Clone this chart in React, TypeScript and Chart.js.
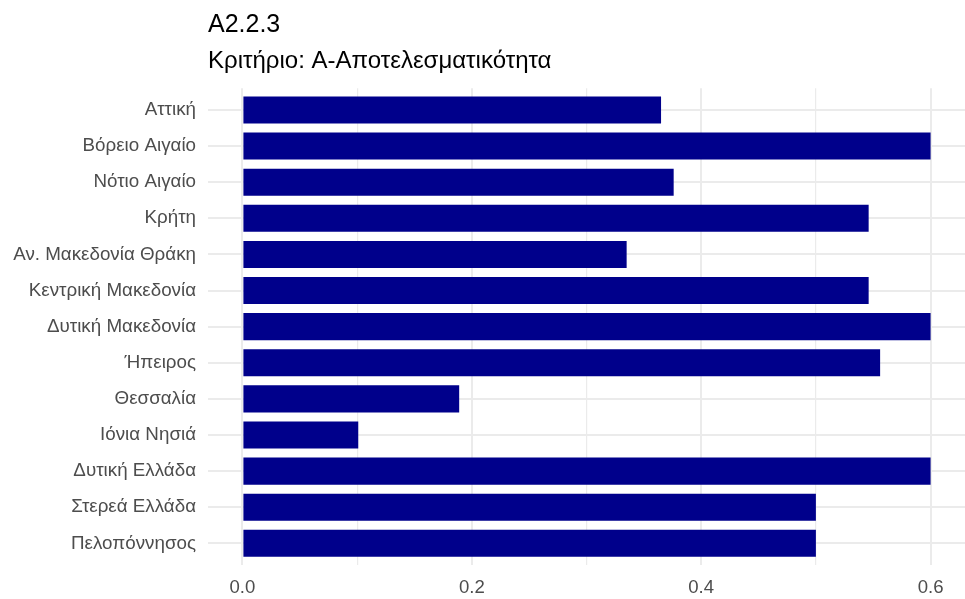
import React, { useEffect, useRef } from "react";
import { Chart, registerables } from "chart.js";

Chart.register(...registerables);

const titleText = "A2.2.3";
const subtitleText = "Κριτήριο: Α-Αποτελεσματικότητα";

const categories = [
  "Αττική",
  "Βόρειο Αιγαίο",
  "Νότιο Αιγαίο",
  "Κρήτη",
  "Αν. Μακεδονία Θράκη",
  "Κεντρική Μακεδονία",
  "Δυτική Μακεδονία",
  "Ήπειρος",
  "Θεσσαλία",
  "Ιόνια Νησιά",
  "Δυτική Ελλάδα",
  "Στερεά Ελλάδα",
  "Πελοπόννησος",
];

const values = [
  0.365, 0.6, 0.376, 0.546, 0.335, 0.546, 0.6, 0.556, 0.189, 0.101, 0.6, 0.5, 0.5,
];

const xTickValues = [0, 0.1, 0.2, 0.3, 0.4, 0.5, 0.6];
const xTickLabels = ["0.0", "", "0.2", "", "0.4", "", "0.6"];

const FONT = "'Liberation Sans', Arial, sans-serif";

const titlePlugin = {
  id: "ggTitle",
  afterDraw(chart: any) {
    const { ctx, chartArea } = chart;
    ctx.save();
    ctx.fillStyle = "#000000";
    ctx.textAlign = "left";
    ctx.textBaseline = "alphabetic";
    ctx.font = `25px ${FONT}`;
    ctx.fillText(titleText, chartArea.left, 31.5);
    ctx.font = `24px ${FONT}`;
    ctx.fillText(subtitleText, chartArea.left, 67.5);
    ctx.restore();
  },
};

export default function App() {
  const ref = useRef<HTMLCanvasElement | null>(null);

  useEffect(() => {
    if (!ref.current) return;
    const chart = new Chart(ref.current, {
      type: "bar",
      data: {
        datasets: [
          {
            data: values.map((v, i) => ({ x: v, y: i })) as any,
            backgroundColor: "#00008B",
            borderWidth: 0,
            barPercentage: 0.75,
            categoryPercentage: 1,
          },
        ],
      },
      options: {
        indexAxis: "y",
        animation: false,
        responsive: false,
        layout: { padding: { top: 88.3, right: 0, bottom: 0, left: 0 } },
        plugins: {
          legend: { display: false },
          tooltip: { enabled: false },
          title: { display: false },
        },
        scales: {
          x: {
            type: "linear",
            min: -0.03,
            max: 0.63,
            border: { display: false },
            afterBuildTicks: (scale: any) => {
              scale.ticks = xTickValues.map((v) => ({ value: v }));
            },
            afterFit: (scale: any) => {
              scale.height = 599 - 565;
            },
            grid: {
              color: "#ebebeb",
              lineWidth: (ctx: any) => {
                const idx = xTickValues.indexOf(ctx.tick?.value);
                return idx >= 0 && xTickLabels[idx] !== "" ? 2 : 1.2;
              },
              drawTicks: false,
            },
            ticks: {
              autoSkip: false,
              maxRotation: 0,
              padding: 12,
              color: "#4d4d4d",
              font: { family: FONT, size: 18.6 },
              callback: (value: any) => {
                const idx = xTickValues.findIndex((v) => Math.abs(v - Number(value)) < 1e-9);
                return idx >= 0 ? xTickLabels[idx] : "";
              },
            },
          },
          y: {
            type: "linear",
            offset: false,
            min: -0.6,
            max: categories.length - 1 + 0.6,
            reverse: true,
            border: { display: false },
            afterBuildTicks: (scale: any) => {
              scale.ticks = categories.map((_, i) => ({ value: i }));
            },
            afterFit: (scale: any) => {
              scale.width = 208;
            },
            grid: {
              offset: false,
              color: "#ebebeb",
              lineWidth: 2,
              drawTicks: false,
            },
            ticks: {
              autoSkip: false,
              padding: 12,
              color: "#4d4d4d",
              font: { family: FONT, size: 18.8 },
              callback: (value: any) => categories[Math.round(Number(value))] ?? "",
            },
          },
        },
      },
      plugins: [titlePlugin],
    });
    return () => chart.destroy();
  }, []);

  return (
    <div style={{ position: "absolute", left: 0, top: 0, width: 965, height: 599, background: "#ffffff" }}>
      <canvas ref={ref} width={965} height={599} style={{ display: "block" }} />
    </div>
  );
}
